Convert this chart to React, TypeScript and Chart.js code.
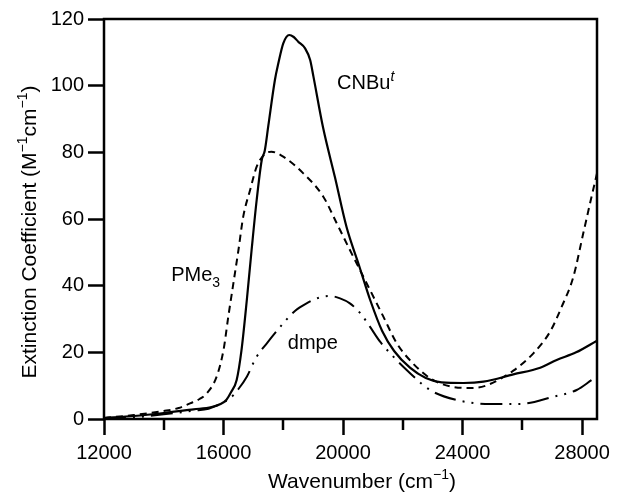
import React, { useEffect, useRef } from "react";
import { Chart, registerables } from "chart.js";

Chart.register(...registerables);

// ---------- data ----------
const cnbuX = [12000, 13000, 14000, 15000, 15600, 15900, 16100, 16250, 16440, 16600, 16780, 16940, 17110, 17280, 17380, 17500, 17720, 17835, 18000, 18200, 18350, 18500, 18730, 18900, 19010, 19330, 19730, 20120, 20520, 20920, 21310, 21710, 22240, 22770, 23300, 24030, 24700, 25700, 26600, 27150, 27800, 28500];
const cnbuY = [0.3, 0.9, 1.8, 2.9, 3.6, 4.5, 5.8, 8.0, 11.7, 20.5, 35.7, 50.7, 65.7, 77.7, 80.5, 88.0, 101.7, 106.7, 112.7, 115.2, 114.6, 113.2, 111.2, 107.7, 102.7, 87.5, 72.5, 57.5, 46.5, 35.4, 26.4, 20.4, 15.4, 12.3, 11.0, 10.8, 11.2, 13.4, 15.4, 17.7, 20.0, 23.5];

const pme3X = [12000, 13000, 14000, 14500, 14880, 15200, 15440, 15770, 16000, 16160, 16330, 16500, 16660, 16890, 17110, 17390, 17600, 18000, 18670, 19340, 19790, 20230, 20680, 21350, 21800, 22370, 22900, 23250, 23700, 24140, 24500, 24920, 25700, 26370, 26930, 27320, 27710, 28040, 28300, 28500];
const pme3Y = [0.3, 1.2, 2.4, 3.3, 4.7, 6.0, 7.7, 12.7, 20.7, 30.7, 40.7, 50.7, 60.7, 68.7, 75.7, 79.5, 80.2, 78.7, 73.7, 66.7, 58.7, 50.7, 42.7, 30.7, 22.7, 16.4, 12.3, 10.7, 9.6, 9.3, 9.4, 10.5, 14.5, 19.7, 26.2, 33.7, 42.7, 55.7, 66.0, 73.7];

const dmpeX = [12000, 13000, 14000, 15000, 15500, 15880, 16220, 16500, 16780, 17090, 17450, 18000, 18400, 18780, 19200, 19560, 19900, 20230, 20600, 20900, 21240, 21600, 22130, 22910, 23800, 24920, 25900, 27040, 27820, 28320, 28500];
const dmpeY = [0.0, 0.5, 1.4, 2.5, 3.1, 4.5, 6.2, 9.0, 12.7, 18.4, 22.7, 28.7, 32.5, 34.7, 36.4, 36.9, 36.2, 34.7, 31.5, 27.7, 23.2, 19.5, 14.7, 8.7, 5.7, 4.5, 4.5, 6.7, 8.7, 11.7, 12.8];

const xMajorTicks = [12000, 16000, 20000, 24000, 28000];
const xMinorTicks = [14000, 18000, 22000, 26000];
const yTicks = [0, 20, 40, 60, 80, 100, 120];

// ---------- styling ----------
const FONT = "'Liberation Sans', Arial, Helvetica, sans-serif";
const FONT_SIZE = 20;
const TITLE_SIZE = 21;
const W = 618;
const H = 493;
const PLOT_LEFT = 104;
const PLOT_RIGHT = 597;
const PLOT_TOP = 19;
const PLOT_BOTTOM = 419;

type Seg = { t: string; sup?: boolean; sub?: boolean; it?: boolean };

function drawRich(ctx: CanvasRenderingContext2D, segs: Seg[], x: number, y: number, size: number, align: "left" | "center") {
  const small = Math.round(size * 0.68);
  const fontFor = (s: Seg) => `${s.it ? "italic " : ""}${s.sup || s.sub ? small : size}px ${FONT}`;
  let total = 0;
  for (const s of segs) {
    ctx.font = fontFor(s);
    total += ctx.measureText(s.t).width;
  }
  let cx = align === "center" ? x - total / 2 : x;
  ctx.textAlign = "left";
  ctx.textBaseline = "alphabetic";
  for (const s of segs) {
    ctx.font = fontFor(s);
    const dy = s.sup ? -size * 0.42 : s.sub ? size * 0.3 : 0;
    ctx.fillText(s.t, cx, y + dy);
    cx += ctx.measureText(s.t).width;
  }
}

const decorPlugin = {
  id: "decor",
  afterDatasetsDraw(chart: any) {
    const { ctx, chartArea: a, scales } = chart;
    const xs = scales.x;
    const ys = scales.y;
    ctx.save();
    ctx.strokeStyle = "#000";
    ctx.fillStyle = "#000";
    // frame
    ctx.lineWidth = 2.5;
    ctx.strokeRect(a.left, a.top, a.right - a.left, a.bottom - a.top);
    // minor x ticks
    ctx.lineWidth = 2.5;
    for (const v of xMinorTicks) {
      const px = Math.round(xs.getPixelForValue(v));
      ctx.beginPath();
      ctx.moveTo(px, a.bottom);
      ctx.lineTo(px, a.bottom + 11);
      ctx.stroke();
    }
    // annotations
    const ann = (segs: Seg[], xv: number, yv: number) =>
      drawRich(ctx, segs, xs.getPixelForValue(xv), ys.getPixelForValue(yv), FONT_SIZE, "left");
    ann([{ t: "CNBu" }, { t: "t", sup: true, it: true }], 19800, 99);
    ann([{ t: "PMe" }, { t: "3", sub: true }], 14250, 41.5);
    ann([{ t: "dmpe" }], 18150, 21);
    // axis titles
    drawRich(ctx, [{ t: "Wavenumber (cm" }, { t: "\u22121", sup: true }, { t: ")" }], 362, 488, TITLE_SIZE, "center");
    ctx.save();
    ctx.translate(36, 232);
    ctx.rotate(-Math.PI / 2);
    drawRich(
      ctx,
      [{ t: "Extinction Coefficient (M" }, { t: "\u22121", sup: true }, { t: "cm" }, { t: "\u22121", sup: true }, { t: ")" }],
      0,
      0,
      TITLE_SIZE,
      "center"
    );
    ctx.restore();
    ctx.restore();
  },
};

function pts(xsArr: number[], ysArr: number[]) {
  return xsArr.map((x, i) => ({ x, y: ysArr[i] }));
}

export default function App() {
  const ref = useRef<HTMLCanvasElement | null>(null);
  useEffect(() => {
    document.body.style.margin = "0";
    const canvas = ref.current;
    if (!canvas) return;
    const common = {
      borderColor: "#000",
      borderWidth: 2,
      pointRadius: 0,
      fill: false,
      tension: 0.4,
      cubicInterpolationMode: "monotone" as const,
    };
    const chart = new Chart(canvas, {
      type: "line",
      data: {
        datasets: [
          { ...common, label: "CNBu", data: pts(cnbuX, cnbuY), borderWidth: 2.2 },
          { ...common, label: "PMe3", data: pts(pme3X, pme3Y), borderDash: [7, 5] },
          { ...common, label: "dmpe", data: pts(dmpeX, dmpeY), borderDash: [22, 7, 2, 7, 2, 7] },
        ],
      },
      options: {
        animation: false,
        responsive: false,
        devicePixelRatio: 1,
        layout: { padding: { left: 0, right: W - PLOT_RIGHT, top: PLOT_TOP, bottom: 0 } },
        plugins: { legend: { display: false }, tooltip: { enabled: false } },
        scales: {
          x: {
            type: "linear",
            min: 12000,
            max: 28500,
            afterBuildTicks: (s: any) => {
              s.ticks = xMajorTicks.map((v) => ({ value: v }));
            },
            afterFit: (s: any) => {
              s.height = H - PLOT_BOTTOM;
            },
            grid: {
              drawOnChartArea: false,
              drawTicks: true,
              tickLength: 16,
              tickWidth: 2.5,
              tickColor: "#000",
            },
            border: { display: false },
            ticks: {
              color: "#000",
              font: { family: FONT, size: FONT_SIZE },
              padding: 6,
              maxRotation: 0,
              autoSkip: false,
              callback: (v: any) => String(v),
            },
          },
          y: {
            type: "linear",
            min: 0,
            max: 120,
            afterBuildTicks: (s: any) => {
              s.ticks = yTicks.map((v) => ({ value: v }));
            },
            afterFit: (s: any) => {
              s.width = PLOT_LEFT;
            },
            grid: {
              drawOnChartArea: false,
              drawTicks: true,
              tickLength: 16,
              tickWidth: 2.5,
              tickColor: "#000",
            },
            border: { display: false },
            ticks: {
              color: "#000",
              font: { family: FONT, size: FONT_SIZE },
              padding: 4,
              autoSkip: false,
            },
          },
        },
      },
      plugins: [decorPlugin],
    } as any);
    return () => chart.destroy();
  }, []);
  return (
    <div style={{ width: W, height: H, background: "#fff" }}>
      <canvas ref={ref} width={W} height={H} style={{ display: "block", width: W, height: H }} />
    </div>
  );
}
